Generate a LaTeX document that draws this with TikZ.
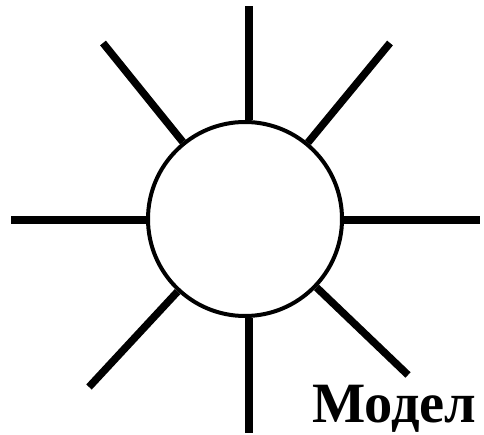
\documentclass[tikz,border=0pt]{standalone}
\usepackage{fontspec}
\setmainfont{Liberation Serif}
\newfontfamily\labelfont[FakeStretch=0.99]{Liberation Serif}
\begin{document}
\begin{tikzpicture}[x=1pt,y=-1pt,
  ray/.style={line width=7.5pt,black},
  hub/.style={circle,draw=black,line width=4pt,fill=white,minimum size=194pt,inner sep=0pt}]
\useasboundingbox (0,0) rectangle (484,435);
\node[hub] (c) at (245,219) {};
\coordinate (n) at (249,6);
\coordinate (s) at (249,433);
\coordinate (w) at (11,220);
\coordinate (e) at (480,220);
\coordinate (nw) at (103,43);
\coordinate (ne) at (390,43);
\coordinate (sw) at (89,387);
\coordinate (se) at (408,375);
\foreach \p in {nw,ne,sw,se}{\draw[ray] (c) -- (\p);}
\draw[ray] (c.north -| n) -- (n);
\draw[ray] (c.south -| s) -- (s);
\draw[ray] (c.west |- w) -- (w);
\draw[ray] (c.east |- e) -- (e);
\node[anchor=base west,inner sep=0pt,font=\labelfont\fontsize{57}{60}\selectfont\bfseries] (t) at (312,422) {Модел};
\end{tikzpicture}
\end{document}
